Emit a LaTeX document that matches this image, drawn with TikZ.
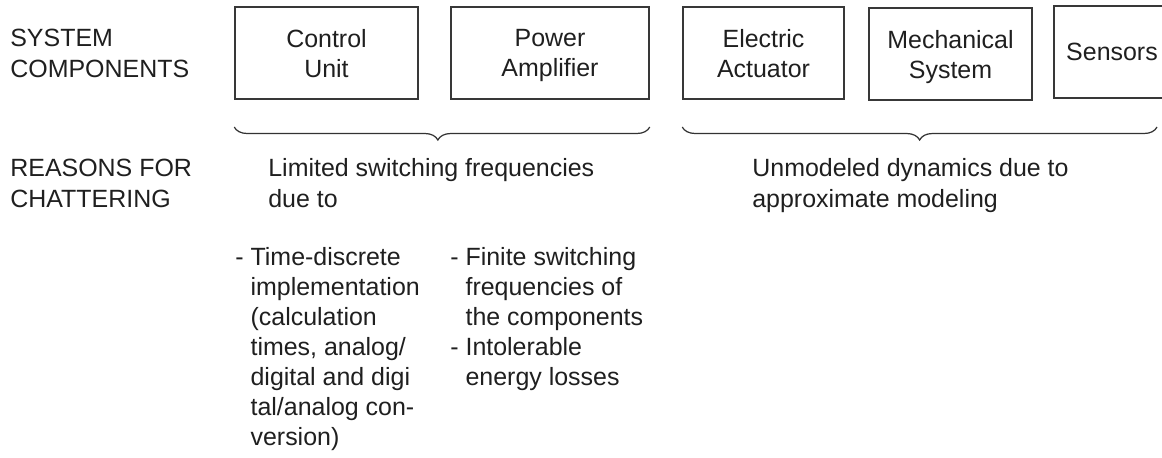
\documentclass[tikz,border=0pt]{standalone}
\usepackage{fontspec}
\setmainfont{Liberation Sans}
\usetikzlibrary{positioning,decorations.pathreplacing,calc}
\usepackage{xcolor}

\begin{document}
\begin{tikzpicture}[
  every node/.style={font=\fontsize{14.2pt}{17.1pt}\selectfont, text=black!88},
  comp/.style={draw=black!78, line width=0.85pt, align=center,
               minimum height=1.84cm, inner sep=0pt, text depth=0pt},
  lbl/.style={anchor=base west, align=left, inner sep=0pt},
  brc/.style={decorate, decoration={brace, mirror, amplitude=0.26cm},
              line width=0.7pt, draw=black!80},
]
\clip (0,0) rectangle (23.24,-9.14);
% ---- row labels (base = last line) ----
\node[lbl] at (0.2,-1.54) (syslbl) {SYSTEM\\COMPONENTS};
\node[lbl] at (0.2,-4.14) (reaslbl) {REASONS FOR\\CHATTERING};
% ---- system components ----
\node[comp, minimum width=3.66cm] at (6.53,-1.06)  (ctrl) {Control\\Unit};
\node[comp, minimum width=3.96cm] at (11.00,-1.06) (amp)  {Power\\Amplifier};
\node[comp, minimum width=3.22cm] at (15.27,-1.06) (act)  {Electric\\Actuator};
\node[comp, minimum width=3.26cm] at (19.01,-1.08) (mech) {Mechanical\\System};
\node[comp, minimum width=2.32cm] at (22.24,-1.04) (sens) {Sensors};
% ---- braces grouping the components ----
\coordinate (brcline) at (0,-2.54);
\coordinate (brcend) at (23.14,-2.54);
\draw[brc, decoration={aspect=0.49}] (ctrl.west |- brcline) -- (amp.east |- brcline);
\draw[brc] (act.west |- brcline) -- (brcend);
% ---- reasons ----
\node[lbl] at (5.36,-4.14)  (limited) {Limited switching frequencies\\due to};
\node[lbl] at (15.04,-4.14) (unmod)   {Unmodeled dynamics due to\\approximate modeling};
\node[lbl] at (4.70,-5.30) (discr) {\begin{tabular}[t]{@{}l@{\ }l@{}}
  - & Time-discrete\\
    & implementation\\
    & (calculation\\
    & times, analog/\\
    & digital and digi\\
    & tal/analog con-\\
    & version)
\end{tabular}};
\node[lbl] at (9.00,-5.30) (finite) {\begin{tabular}[t]{@{}l@{\ }l@{}}
  - & Finite switching\\
    & frequencies of\\
    & the components\\
  - & Intolerable\\
    & energy losses
\end{tabular}};
\end{tikzpicture}
\end{document}
